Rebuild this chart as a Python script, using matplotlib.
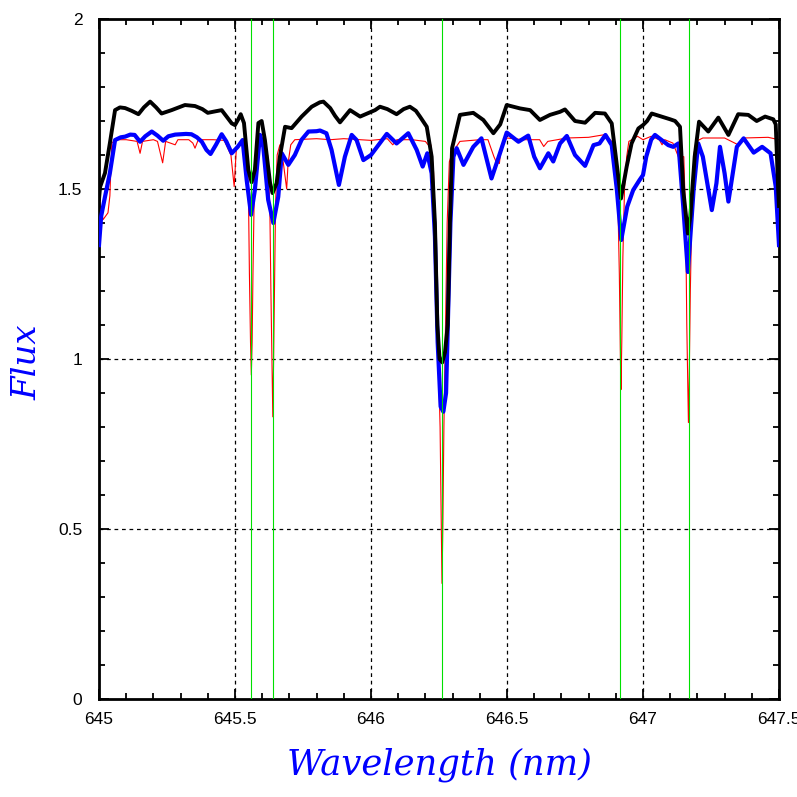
import matplotlib
matplotlib.use("Agg")
import matplotlib.pyplot as plt
from matplotlib.ticker import MultipleLocator
import numpy as np

# ---- data ----
black_wl = [645.000, 645.004, 645.022, 645.040, 645.059, 645.077, 645.096, 645.120, 645.145, 645.165,
            645.188, 645.210, 645.230, 645.267, 645.316, 645.353, 645.380, 645.400, 645.425, 645.451,
            645.470, 645.488, 645.500, 645.512, 645.521, 645.533, 645.549, 645.561, 645.573, 645.586,
            645.598, 645.610, 645.629, 645.638, 645.653, 645.665, 645.684, 645.708, 645.745, 645.782,
            645.812, 645.825, 645.850, 645.868, 645.886, 645.923, 645.960, 646.015, 646.033, 646.060,
            646.094, 646.120, 646.143, 646.165, 646.180, 646.205, 646.223, 646.235, 646.244, 646.252,
            646.262, 646.272, 646.282, 646.290, 646.298, 646.327, 646.376, 646.413, 646.450, 646.475,
            646.499, 646.548, 646.585, 646.621, 646.658, 646.695, 646.713, 646.750, 646.787, 646.824,
            646.860, 646.885, 646.900, 646.919, 646.940, 646.958, 646.983, 647.000, 647.015, 647.032,
            647.068, 647.100, 647.118, 647.136, 647.148, 647.165, 647.174, 647.190, 647.206, 647.240,
            647.277, 647.314, 647.350, 647.387, 647.418, 647.449, 647.479, 647.488, 647.497, 647.500]
black_flux = [1.47, 1.506, 1.547, 1.635, 1.732, 1.740, 1.738, 1.730, 1.720, 1.740,
              1.757, 1.740, 1.722, 1.732, 1.747, 1.744, 1.735, 1.724, 1.728, 1.732,
              1.712, 1.693, 1.688, 1.705, 1.720, 1.694, 1.556, 1.520, 1.556, 1.694,
              1.700, 1.644, 1.517, 1.488, 1.517, 1.595, 1.683, 1.679, 1.713, 1.742,
              1.755, 1.757, 1.738, 1.715, 1.696, 1.732, 1.713, 1.732, 1.742, 1.735,
              1.720, 1.735, 1.742, 1.730, 1.713, 1.683, 1.595, 1.400, 1.100, 1.000,
              0.990, 1.020, 1.100, 1.400, 1.620, 1.718, 1.724, 1.703, 1.664, 1.690,
              1.747, 1.737, 1.732, 1.703, 1.718, 1.727, 1.734, 1.700, 1.695, 1.724,
              1.722, 1.693, 1.595, 1.472, 1.566, 1.634, 1.678, 1.688, 1.700, 1.722,
              1.713, 1.705, 1.700, 1.683, 1.497, 1.369, 1.419, 1.595, 1.698, 1.669,
              1.710, 1.659, 1.720, 1.718, 1.700, 1.713, 1.705, 1.690, 1.497, 1.450]

blue_wl = [645.000, 645.008, 645.022, 645.040, 645.059, 645.080, 645.096, 645.115, 645.131, 645.151,
           645.170, 645.194, 645.215, 645.236, 645.255, 645.280, 645.320, 645.340, 645.360, 645.378,
           645.395, 645.410, 645.430, 645.451, 645.468, 645.488, 645.510, 645.528, 645.543, 645.559,
           645.573, 645.592, 645.604, 645.622, 645.641, 645.659, 645.672, 645.696, 645.720, 645.745,
           645.770, 645.800, 645.8125, 645.836, 645.855, 645.882, 645.904, 645.929, 645.947, 645.972,
           646.000, 646.058, 646.094, 646.137, 646.168, 646.190, 646.207, 646.223, 646.235, 646.245,
           646.256, 646.266, 646.276, 646.284, 646.292, 646.303, 646.315, 646.340, 646.376, 646.406,
           646.443, 646.474, 646.499, 646.542, 646.578, 646.600, 646.621, 646.652, 646.670, 646.695,
           646.720, 646.750, 646.787, 646.818, 646.840, 646.862, 646.885, 646.904, 646.920, 646.942,
           646.964, 646.987, 647.000, 647.012, 647.030, 647.044, 647.093, 647.111, 647.130, 647.148,
           647.165, 647.186, 647.203, 647.220, 647.253, 647.270, 647.283, 647.300, 647.314, 647.330,
           647.345, 647.370, 647.407, 647.438, 647.469, 647.488, 647.500]
blue_flux = [1.335, 1.420, 1.477, 1.547, 1.644, 1.652, 1.654, 1.660, 1.659, 1.639,
             1.655, 1.669, 1.657, 1.642, 1.655, 1.660, 1.662, 1.661, 1.652, 1.639,
             1.615, 1.603, 1.630, 1.661, 1.640, 1.605, 1.624, 1.644, 1.526, 1.424,
             1.497, 1.659, 1.624, 1.468, 1.400, 1.477, 1.605, 1.571, 1.600, 1.645,
             1.669, 1.670, 1.672, 1.664, 1.615, 1.512, 1.595, 1.659, 1.644, 1.585,
             1.600, 1.662, 1.634, 1.664, 1.615, 1.566, 1.605, 1.546, 1.360, 1.050,
             0.860, 0.845, 0.900, 1.150, 1.400, 1.595, 1.620, 1.571, 1.624, 1.649,
             1.531, 1.605, 1.666, 1.639, 1.657, 1.595, 1.561, 1.605, 1.581, 1.634,
             1.656, 1.600, 1.568, 1.629, 1.634, 1.659, 1.629, 1.497, 1.350, 1.448,
             1.497, 1.526, 1.541, 1.595, 1.645, 1.659, 1.629, 1.624, 1.634, 1.448,
             1.256, 1.497, 1.634, 1.595, 1.438, 1.517, 1.624, 1.546, 1.463, 1.546,
             1.624, 1.649, 1.607, 1.624, 1.605, 1.507, 1.335]

red_wl = [645.000, 645.004, 645.015, 645.033, 645.040, 645.047, 645.060, 645.100, 645.140, 645.151,
          645.160, 645.200, 645.215, 645.234, 645.245, 645.280, 645.290, 645.330, 645.345, 645.353,
          645.365, 645.420, 645.460, 645.485, 645.497, 645.505, 645.525, 645.535, 645.545, 645.550,
          645.553, 645.557, 645.560, 645.563, 645.566, 645.570, 645.575, 645.585, 645.600, 645.612,
          645.620, 645.628, 645.632, 645.636, 645.639, 645.642, 645.645, 645.649, 645.655, 645.665,
          645.678, 645.690, 645.695, 645.705, 645.720, 645.800, 645.850, 645.900, 646.000, 646.060,
          646.080, 646.095, 646.150, 646.200, 646.210, 646.220, 646.230, 646.238, 646.246, 646.254,
          646.258, 646.261, 646.264, 646.268, 646.274, 646.280, 646.288, 646.296, 646.310, 646.327,
          646.400, 646.430, 646.452, 646.460, 646.472, 646.480, 646.500, 646.560, 646.620, 646.635,
          646.650, 646.720, 646.800, 646.860, 646.885, 646.900, 646.908, 646.913, 646.917, 646.919,
          646.922, 646.926, 646.932, 646.940, 646.948, 646.980, 647.000, 647.030, 647.060, 647.070,
          647.080, 647.110, 647.130, 647.150, 647.157, 647.161, 647.165, 647.167, 647.170, 647.174,
          647.180, 647.188, 647.195, 647.220, 647.300, 647.350, 647.370, 647.460, 647.500]
red_flux = [1.550, 1.450, 1.410, 1.430, 1.480, 1.635, 1.645, 1.645, 1.640, 1.605,
            1.640, 1.645, 1.640, 1.577, 1.640, 1.630, 1.645, 1.645, 1.635, 1.620,
            1.645, 1.645, 1.643, 1.600, 1.507, 1.620, 1.640, 1.620, 1.600, 1.450,
            1.250, 1.050, 0.953, 1.050, 1.250, 1.450, 1.580, 1.640, 1.630, 1.600,
            1.600, 1.450, 1.200, 1.000, 0.830, 1.000, 1.200, 1.450, 1.600, 1.630,
            1.575, 1.500, 1.575, 1.630, 1.645, 1.648, 1.645, 1.648, 1.643, 1.648,
            1.630, 1.645, 1.645, 1.640, 1.630, 1.630, 1.550, 1.300, 1.050, 0.800,
            0.550, 0.340, 0.500, 0.800, 1.100, 1.400, 1.580, 1.600, 1.620, 1.640,
            1.645, 1.645, 1.595, 1.580, 1.575, 1.630, 1.650, 1.645, 1.645, 1.625,
            1.640, 1.650, 1.652, 1.660, 1.640, 1.595, 1.450, 1.250, 1.000, 0.910,
            1.050, 1.300, 1.500, 1.595, 1.640, 1.655, 1.645, 1.655, 1.645, 1.630,
            1.645, 1.635, 1.595, 1.595, 1.400, 1.100, 0.900, 0.813, 0.950, 1.200,
            1.450, 1.605, 1.640, 1.650, 1.650, 1.630, 1.650, 1.652, 1.645]

line_marks = [645.560, 645.638, 646.261, 646.916, 647.168]

xticks = [645, 645.5, 646, 646.5, 647, 647.5]
xtick_labels = ["645", "645.5", "646", "646.5", "647", "647.5"]
yticks = [0, 0.5, 1, 1.5, 2]
ytick_labels = ["0", "0.5", "1", "1.5", "2"]

# ---- figure ----
W = 797
fig = plt.figure(figsize=(W / 100, W / 100), dpi=100)
ax = fig.add_axes([99 / W, 1 - 699 / W, 680 / W, 680 / W])

ax.plot(red_wl, red_flux, color="#ff0000", lw=0.8, zorder=2)
ax.plot(blue_wl, blue_flux, color="#0000ff", lw=3.0, zorder=3, solid_joinstyle="round")
ax.plot(black_wl, black_flux, color="black", lw=2.8, zorder=4, solid_joinstyle="round")
for lm in line_marks:
    ax.axvline(lm, color="#00e000", lw=0.8, zorder=5)

ax.set_xlim(645, 647.5)
ax.set_ylim(0, 2)
ax.set_xticks(xticks)
ax.set_xticklabels(xtick_labels)
ax.set_yticks(yticks)
ax.set_yticklabels(ytick_labels)
ax.xaxis.set_minor_locator(MultipleLocator(0.1))
ax.yaxis.set_minor_locator(MultipleLocator(0.1))
ax.tick_params(which="both", direction="in", top=True, right=True, width=1.3, colors="black")
ax.tick_params(which="major", length=7.5)
ax.tick_params(which="minor", length=4)
ax.tick_params(axis="x", which="major", pad=9, labelsize=12.5)
ax.tick_params(axis="y", which="major", pad=12, labelsize=12.5)
for lab in ax.get_xticklabels() + ax.get_yticklabels():
    lab.set_family("Liberation Sans")
for sp in ax.spines.values():
    sp.set_linewidth(2)

for g in [645.5, 646, 646.5, 647]:
    ax.axvline(g, color="black", lw=0.9, ls=(0, (3, 3)), zorder=1)
for g in [0.5, 1, 1.5]:
    ax.axhline(g, color="black", lw=0.9, ls=(0, (3, 3)), zorder=1)

fig.text(439 / W, 1 - 765 / W, "Wavelength (nm)", color="#0000ff", family="DejaVu Serif",
         style="italic", fontsize=25.5, ha="center", va="center")
fig.text(28 / W, 1 - 362 / W, "Flux", color="#0000ff", family="DejaVu Serif",
         style="italic", fontsize=24.5, ha="center", va="center", rotation=90)

fig.savefig("out.png", dpi=100)
